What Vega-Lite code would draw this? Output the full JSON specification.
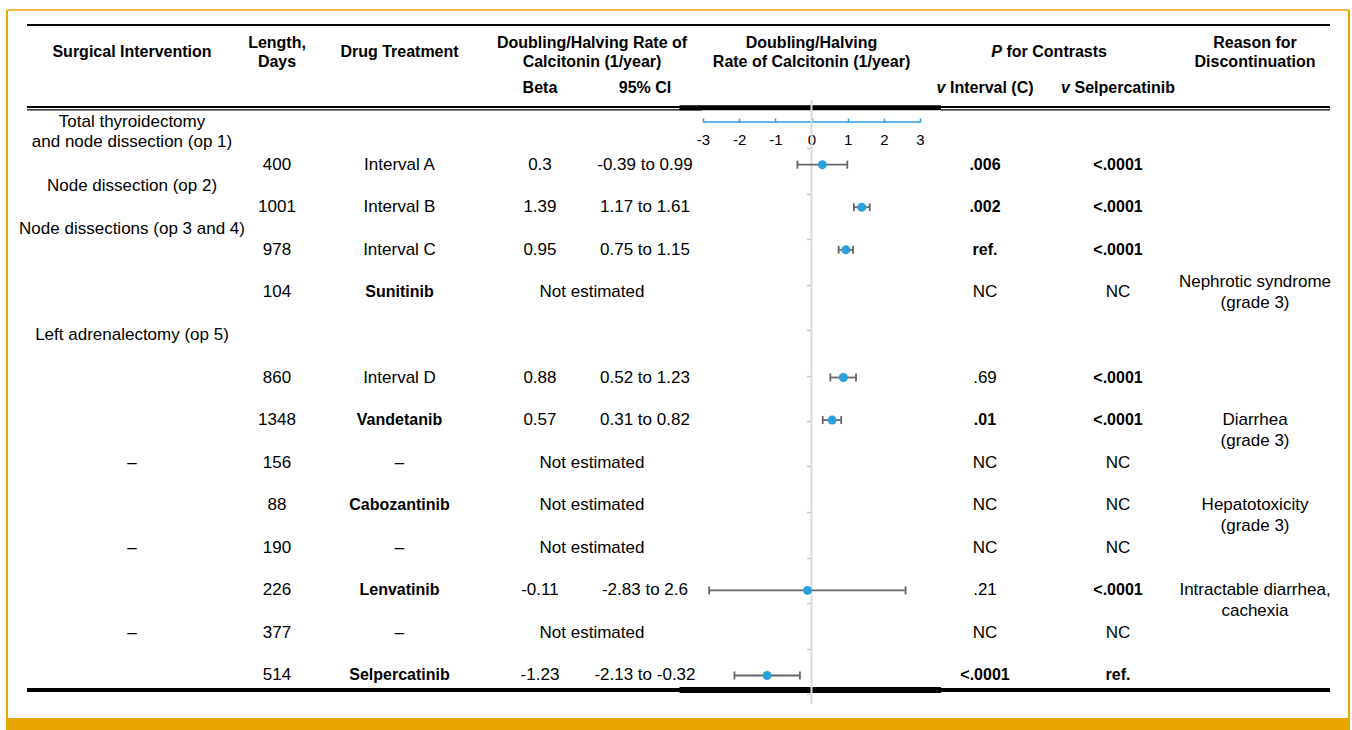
{
  "$schema": "https://vega.github.io/schema/vega-lite/v6.json",
  "padding": {"left": 6, "top": 9, "right": 0, "bottom": 0},
  "spacing": 0,
  "bounds": "flush",
  "background": "#ffffff",
  "config": {
    "view": {"stroke": null},
    "text": {"font": "Liberation Sans", "fontSize": 17, "baseline": "middle", "align": "center", "fill": "#000", "lineBreak": "\n", "lineHeight": 19},
    "rule": {"color": "#000"},
    "axis": {"labelFont": "Liberation Sans", "labelFontSize": 15, "labelColor": "#000"}
  },
  "datasets": {
    "rows": [
      {"row": 1, "len": "400", "drug": "Interval A", "kind": "interval", "beta": "0.3", "ci": "-0.39 to 0.99", "pC": ".006", "sigC": true, "pS": "<.0001", "sigS": true},
      {"row": 2, "len": "1001", "drug": "Interval B", "kind": "interval", "beta": "1.39", "ci": "1.17 to 1.61", "pC": ".002", "sigC": true, "pS": "<.0001", "sigS": true},
      {"row": 3, "len": "978", "drug": "Interval C", "kind": "interval", "beta": "0.95", "ci": "0.75 to 1.15", "pC": "ref.", "sigC": true, "pS": "<.0001", "sigS": true},
      {"row": 4, "len": "104", "drug": "Sunitinib", "kind": "drug", "beta": "Not estimated", "ci": null, "pC": "NC", "sigC": false, "pS": "NC", "sigS": false},
      {"row": 6, "len": "860", "drug": "Interval D", "kind": "interval", "beta": "0.88", "ci": "0.52 to 1.23", "pC": ".69", "sigC": false, "pS": "<.0001", "sigS": true},
      {"row": 7, "len": "1348", "drug": "Vandetanib", "kind": "drug", "beta": "0.57", "ci": "0.31 to 0.82", "pC": ".01", "sigC": true, "pS": "<.0001", "sigS": true},
      {"row": 8, "len": "156", "drug": "–", "kind": "none", "beta": "Not estimated", "ci": null, "pC": "NC", "sigC": false, "pS": "NC", "sigS": false},
      {"row": 9, "len": "88", "drug": "Cabozantinib", "kind": "drug", "beta": "Not estimated", "ci": null, "pC": "NC", "sigC": false, "pS": "NC", "sigS": false},
      {"row": 10, "len": "190", "drug": "–", "kind": "none", "beta": "Not estimated", "ci": null, "pC": "NC", "sigC": false, "pS": "NC", "sigS": false},
      {"row": 11, "len": "226", "drug": "Lenvatinib", "kind": "drug", "beta": "-0.11", "ci": "-2.83 to 2.6", "pC": ".21", "sigC": false, "pS": "<.0001", "sigS": true},
      {"row": 12, "len": "377", "drug": "–", "kind": "none", "beta": "Not estimated", "ci": null, "pC": "NC", "sigC": false, "pS": "NC", "sigS": false},
      {"row": 13, "len": "514", "drug": "Selpercatinib", "kind": "drug", "beta": "-1.23", "ci": "-2.13 to -0.32", "pC": "<.0001", "sigC": true, "pS": "ref.", "sigS": true}
    ],
    "forest": [
      {"row": 1, "b": 0.3, "lo": -0.39, "hi": 0.99},
      {"row": 2, "b": 1.39, "lo": 1.17, "hi": 1.61},
      {"row": 3, "b": 0.95, "lo": 0.75, "hi": 1.15},
      {"row": 6, "b": 0.88, "lo": 0.52, "hi": 1.23},
      {"row": 7, "b": 0.57, "lo": 0.31, "hi": 0.82},
      {"row": 11, "b": -0.11, "lo": -2.83, "hi": 2.6},
      {"row": 13, "b": -1.23, "lo": -2.13, "hi": -0.32}
    ],
    "surgical": [
      {"row": 0, "l1": "Total thyroidectomy", "l2": "and node dissection (op 1)"},
      {"row": 1.5, "l1": "Node dissection (op 2)"},
      {"row": 2.5, "l1": "Node dissections (op 3 and 4)"},
      {"row": 5, "l1": "Left adrenalectomy (op 5)"},
      {"row": 8, "l1": "–"},
      {"row": 10, "l1": "–"},
      {"row": 12, "l1": "–"}
    ],
    "reasons": [
      {"row": 3.75, "l1": "Nephrotic syndrome", "l2": "(grade 3)"},
      {"row": 7, "l1": "Diarrhea", "l2": "(grade 3)"},
      {"row": 9, "l1": "Hepatotoxicity", "l2": "(grade 3)"},
      {"row": 11, "l1": "Intractable diarrhea,", "l2": "cachexia"}
    ]
  },
  "hconcat": [
    {
      "width": 2, "height": 721,
      "view": {"fill": "#E8A500", "stroke": null},
      "data": {"values": [{}]},
      "mark": {"type": "rect", "color": "#E8A500"},
      "encoding": {"y": {"datum": 13.998, "type": "quantitative", "scale": {"domain": [-2.633, 14.304], "reverse": true, "nice": false, "zero": false}, "axis": null}, "y2": {"datum": 14.304}}
    },
    {
      "width": 19, "height": 721,
      "data": {"values": [{}]},
      "layer": [
        {"mark": {"type": "rule", "color": "#E8A500", "strokeWidth": 1.5}, "encoding": {"y": {"datum": -2.633, "type": "quantitative", "scale": {"domain": [-2.633, 14.304], "reverse": true, "nice": false, "zero": false}, "axis": null}}},
        {"mark": {"type": "rect", "color": "#E8A500"}, "encoding": {"y": {"datum": 13.998, "type": "quantitative", "axis": null}, "y2": {"datum": 14.304}}}
      ]
    },
    {
      "width": 210, "height": 721,
      "data": {"values": [{}]},
      "layer": [
        {"mark": {"type": "rule", "color": "#E8A500", "strokeWidth": 1.5}, "encoding": {"y": {"datum": -2.633, "type": "quantitative", "scale": {"domain": [-2.633, 14.304], "reverse": true, "nice": false, "zero": false}, "axis": null}}},
        {"mark": {"type": "rect", "color": "#E8A500"}, "encoding": {"y": {"datum": 13.998, "type": "quantitative", "axis": null}, "y2": {"datum": 14.304}}},
        {"mark": {"type": "rule", "strokeWidth": 2}, "encoding": {"y": {"datum": -2.28, "type": "quantitative", "axis": null}}},
        {"mark": {"type": "rule", "strokeWidth": 2}, "encoding": {"y": {"datum": -0.356, "type": "quantitative", "axis": null}}},
        {"mark": {"type": "rule", "strokeWidth": 1.2}, "encoding": {"y": {"datum": -0.285, "type": "quantitative", "axis": null}}},
        {"mark": {"type": "rule", "strokeWidth": 4}, "encoding": {"y": {"datum": 13.339, "type": "quantitative", "axis": null}}},
        {"data": {"values": [{"h": "Surgical Intervention"}]}, "mark": {"type": "text", "fontWeight": "bold", "fontSize": 16}, "encoding": {"text": {"field": "h"}, "y": {"datum": -1.645, "type": "quantitative", "axis": null}}},
        {"data": {"name": "surgical"}, "mark": {"type": "text"}, "encoding": {"text": {"field": "l1"}, "y": {"field": "row", "type": "quantitative", "axis": null}}},
        {"data": {"name": "surgical"}, "transform": [{"filter": "datum.l2 != null"}], "mark": {"type": "text", "dy": 20}, "encoding": {"text": {"field": "l2"}, "y": {"field": "row", "type": "quantitative", "axis": null}}}
      ]
    },
    {
      "width": 80, "height": 721,
      "data": {"values": [{}]},
      "layer": [
        {"mark": {"type": "rule", "color": "#E8A500", "strokeWidth": 1.5}, "encoding": {"y": {"datum": -2.633, "type": "quantitative", "scale": {"domain": [-2.633, 14.304], "reverse": true, "nice": false, "zero": false}, "axis": null}}},
        {"mark": {"type": "rect", "color": "#E8A500"}, "encoding": {"y": {"datum": 13.998, "type": "quantitative", "axis": null}, "y2": {"datum": 14.304}}},
        {"mark": {"type": "rule", "strokeWidth": 2}, "encoding": {"y": {"datum": -2.28, "type": "quantitative", "axis": null}}},
        {"mark": {"type": "rule", "strokeWidth": 2}, "encoding": {"y": {"datum": -0.356, "type": "quantitative", "axis": null}}},
        {"mark": {"type": "rule", "strokeWidth": 1.2}, "encoding": {"y": {"datum": -0.285, "type": "quantitative", "axis": null}}},
        {"mark": {"type": "rule", "strokeWidth": 4}, "encoding": {"y": {"datum": 13.339, "type": "quantitative", "axis": null}}},
        {"data": {"values": [{"h": "Length,\nDays"}]}, "mark": {"type": "text", "fontWeight": "bold", "fontSize": 16}, "encoding": {"text": {"field": "h"}, "y": {"datum": -1.857, "type": "quantitative", "axis": null}}},
        {"data": {"name": "rows"}, "mark": {"type": "text"}, "encoding": {"text": {"field": "len"}, "y": {"field": "row", "type": "quantitative", "axis": null}}}
      ]
    },
    {
      "width": 165, "height": 721,
      "data": {"values": [{}]},
      "layer": [
        {"mark": {"type": "rule", "color": "#E8A500", "strokeWidth": 1.5}, "encoding": {"y": {"datum": -2.633, "type": "quantitative", "scale": {"domain": [-2.633, 14.304], "reverse": true, "nice": false, "zero": false}, "axis": null}}},
        {"mark": {"type": "rect", "color": "#E8A500"}, "encoding": {"y": {"datum": 13.998, "type": "quantitative", "axis": null}, "y2": {"datum": 14.304}}},
        {"mark": {"type": "rule", "strokeWidth": 2}, "encoding": {"y": {"datum": -2.28, "type": "quantitative", "axis": null}}},
        {"mark": {"type": "rule", "strokeWidth": 2}, "encoding": {"y": {"datum": -0.356, "type": "quantitative", "axis": null}}},
        {"mark": {"type": "rule", "strokeWidth": 1.2}, "encoding": {"y": {"datum": -0.285, "type": "quantitative", "axis": null}}},
        {"mark": {"type": "rule", "strokeWidth": 4}, "encoding": {"y": {"datum": 13.339, "type": "quantitative", "axis": null}}},
        {"data": {"values": [{"h": "Drug Treatment"}]}, "mark": {"type": "text", "fontWeight": "bold", "fontSize": 16}, "encoding": {"text": {"field": "h"}, "y": {"datum": -1.645, "type": "quantitative", "axis": null}}},
        {"data": {"name": "rows"}, "transform": [{"filter": "datum.kind == 'drug'"}], "mark": {"type": "text", "fontWeight": "bold", "fontSize": 16}, "encoding": {"text": {"field": "drug"}, "y": {"field": "row", "type": "quantitative", "axis": null}}},
        {"data": {"name": "rows"}, "transform": [{"filter": "datum.kind != 'drug'"}], "mark": {"type": "text"}, "encoding": {"text": {"field": "drug"}, "y": {"field": "row", "type": "quantitative", "axis": null}}}
      ]
    },
    {
      "width": 220, "height": 721,
      "data": {"values": [{}]},
      "layer": [
        {"mark": {"type": "rule", "color": "#E8A500", "strokeWidth": 1.5}, "encoding": {"y": {"datum": -2.633, "type": "quantitative", "scale": {"domain": [-2.633, 14.304], "reverse": true, "nice": false, "zero": false}, "axis": null}}},
        {"mark": {"type": "rect", "color": "#E8A500"}, "encoding": {"y": {"datum": 13.998, "type": "quantitative", "axis": null}, "y2": {"datum": 14.304}}},
        {"mark": {"type": "rule", "strokeWidth": 2}, "encoding": {"y": {"datum": -2.28, "type": "quantitative", "axis": null}}},
        {"mark": {"type": "rule", "strokeWidth": 2}, "encoding": {"y": {"datum": -0.356, "type": "quantitative", "axis": null}}},
        {"mark": {"type": "rule", "strokeWidth": 1.2}, "encoding": {"y": {"datum": -0.285, "type": "quantitative", "axis": null}}},
        {"mark": {"type": "rule", "strokeWidth": 4}, "encoding": {"y": {"datum": 13.339, "type": "quantitative", "axis": null}}},
        {"data": {"values": [{"h": "Doubling/Halving Rate of\nCalcitonin (1/year)"}]}, "mark": {"type": "text", "fontWeight": "bold", "fontSize": 16}, "encoding": {"text": {"field": "h"}, "y": {"datum": -1.857, "type": "quantitative", "axis": null}}},
        {"data": {"values": [{"h": "Beta"}]}, "mark": {"type": "text", "fontWeight": "bold", "fontSize": 16}, "encoding": {"text": {"field": "h"}, "x": {"datum": "Beta", "type": "nominal", "scale": {"type": "point", "domain": ["Beta", "CI"], "padding": 0.5476, "align": 0.504}, "axis": null}, "y": {"datum": -0.798, "type": "quantitative", "axis": null}}},
        {"data": {"values": [{"h": "95% CI"}]}, "mark": {"type": "text", "fontWeight": "bold", "fontSize": 16}, "encoding": {"text": {"field": "h"}, "x": {"datum": "CI", "type": "nominal", "axis": null}, "y": {"datum": -0.798, "type": "quantitative", "axis": null}}},
        {"data": {"name": "rows"}, "transform": [{"filter": "datum.ci != null"}], "mark": {"type": "text"}, "encoding": {"text": {"field": "beta"}, "x": {"datum": "Beta", "type": "nominal", "axis": null}, "y": {"field": "row", "type": "quantitative", "axis": null}}},
        {"data": {"name": "rows"}, "transform": [{"filter": "datum.ci != null"}], "mark": {"type": "text"}, "encoding": {"text": {"field": "ci"}, "x": {"datum": "CI", "type": "nominal", "axis": null}, "y": {"field": "row", "type": "quantitative", "axis": null}}},
        {"data": {"name": "rows"}, "transform": [{"filter": "datum.ci == null"}], "mark": {"type": "text"}, "encoding": {"text": {"field": "beta"}, "y": {"field": "row", "type": "quantitative", "axis": null}}}
      ]
    },
    {
      "width": 239, "height": 721,
      "data": {"values": [{}]},
      "layer": [
        {"mark": {"type": "rule", "color": "#E8A500", "strokeWidth": 1.5}, "encoding": {
          "y": {"datum": -2.633, "type": "quantitative", "scale": {"domain": [-2.633, 14.304], "reverse": true, "nice": false, "zero": false}, "axis": {"orient": "left", "offset": -109.5, "values": [0.61, 1.68, 2.75, 3.82, 4.89, 5.96, 7.03, 8.09, 9.16, 10.23, 11.3, 12.37, 13.43], "labels": false, "domain": false, "grid": false, "ticks": true, "tickColor": "#C8C8C8", "tickSize": 5, "tickWidth": 1.5, "title": null}}}},
        {"mark": {"type": "rect", "color": "#E8A500"}, "encoding": {
          "y": {"datum": 13.998, "type": "quantitative", "axis": {"orient": "left", "offset": -109.5, "values": [0.61, 1.68, 2.75, 3.82, 4.89, 5.96, 7.03, 8.09, 9.16, 10.23, 11.3, 12.37, 13.43], "labels": false, "domain": false, "grid": false, "ticks": true, "tickColor": "#C8C8C8", "tickSize": 5, "tickWidth": 1.5, "title": null}}, "y2": {"datum": 14.304}}},
        {"mark": {"type": "rule", "strokeWidth": 2}, "encoding": {
          "y": {"datum": -2.28, "type": "quantitative", "axis": {"orient": "left", "offset": -109.5, "values": [0.61, 1.68, 2.75, 3.82, 4.89, 5.96, 7.03, 8.09, 9.16, 10.23, 11.3, 12.37, 13.43], "labels": false, "domain": false, "grid": false, "ticks": true, "tickColor": "#C8C8C8", "tickSize": 5, "tickWidth": 1.5, "title": null}}}},
        {"mark": {"type": "rule", "strokeWidth": 5}, "encoding": {
          "x": {"datum": -3.65, "type": "quantitative", "scale": {"domain": [-3.028, 3.58], "nice": false, "zero": false}, "axis": {"orient": "top", "offset": -112, "values": [-3, -2, -1, 0, 1, 2, 3], "domain": false, "grid": false, "ticks": true, "tickColor": "#2B9FD9", "tickSize": 4, "tickWidth": 1.5, "labelPadding": -21, "labelBaseline": "middle", "labelFont": "Liberation Sans", "labelFontSize": 15, "labelColor": "#000", "labelExpr": "'' + datum.value", "labelFlush": false, "labelOverlap": false, "labelBound": false, "title": null}},
          "x2": {"datum": 3.58},
          "y": {"datum": -0.339, "type": "quantitative", "axis": {"orient": "left", "offset": -109.5, "values": [0.61, 1.68, 2.75, 3.82, 4.89, 5.96, 7.03, 8.09, 9.16, 10.23, 11.3, 12.37, 13.43], "labels": false, "domain": false, "grid": false, "ticks": true, "tickColor": "#C8C8C8", "tickSize": 5, "tickWidth": 1.5, "title": null}}}},
        {"mark": {"type": "rule", "strokeWidth": 6}, "encoding": {
          "x": {"datum": -3.65, "type": "quantitative", "axis": {"orient": "top", "offset": -112, "values": [-3, -2, -1, 0, 1, 2, 3], "domain": false, "grid": false, "ticks": true, "tickColor": "#2B9FD9", "tickSize": 4, "tickWidth": 1.5, "labelPadding": -21, "labelBaseline": "middle", "labelFont": "Liberation Sans", "labelFontSize": 15, "labelColor": "#000", "labelExpr": "'' + datum.value", "labelFlush": false, "labelOverlap": false, "labelBound": false, "title": null}},
          "x2": {"datum": 3.58},
          "y": {"datum": 13.339, "type": "quantitative", "axis": {"orient": "left", "offset": -109.5, "values": [0.61, 1.68, 2.75, 3.82, 4.89, 5.96, 7.03, 8.09, 9.16, 10.23, 11.3, 12.37, 13.43], "labels": false, "domain": false, "grid": false, "ticks": true, "tickColor": "#C8C8C8", "tickSize": 5, "tickWidth": 1.5, "title": null}}}},
        {"mark": {"type": "rule", "color": "#2B9FD9", "strokeWidth": 1.5}, "encoding": {
          "x": {"datum": -3, "type": "quantitative", "axis": {"orient": "top", "offset": -112, "values": [-3, -2, -1, 0, 1, 2, 3], "domain": false, "grid": false, "ticks": true, "tickColor": "#2B9FD9", "tickSize": 4, "tickWidth": 1.5, "labelPadding": -21, "labelBaseline": "middle", "labelFont": "Liberation Sans", "labelFontSize": 15, "labelColor": "#000", "labelExpr": "'' + datum.value", "labelFlush": false, "labelOverlap": false, "labelBound": false, "title": null}},
          "x2": {"datum": 3},
          "y": {"datum": 0, "type": "quantitative", "axis": {"orient": "left", "offset": -109.5, "values": [0.61, 1.68, 2.75, 3.82, 4.89, 5.96, 7.03, 8.09, 9.16, 10.23, 11.3, 12.37, 13.43], "labels": false, "domain": false, "grid": false, "ticks": true, "tickColor": "#C8C8C8", "tickSize": 5, "tickWidth": 1.5, "title": null}}}},
        {"mark": {"type": "rule", "color": "#DADADA", "strokeWidth": 2}, "encoding": {
          "x": {"datum": 0, "type": "quantitative", "axis": {"orient": "top", "offset": -112, "values": [-3, -2, -1, 0, 1, 2, 3], "domain": false, "grid": false, "ticks": true, "tickColor": "#2B9FD9", "tickSize": 4, "tickWidth": 1.5, "labelPadding": -21, "labelBaseline": "middle", "labelFont": "Liberation Sans", "labelFontSize": 15, "labelColor": "#000", "labelExpr": "'' + datum.value", "labelFlush": false, "labelOverlap": false, "labelBound": false, "title": null}},
          "y": {"datum": -0.52, "type": "quantitative", "axis": {"orient": "left", "offset": -109.5, "values": [0.61, 1.68, 2.75, 3.82, 4.89, 5.96, 7.03, 8.09, 9.16, 10.23, 11.3, 12.37, 13.43], "labels": false, "domain": false, "grid": false, "ticks": true, "tickColor": "#C8C8C8", "tickSize": 5, "tickWidth": 1.5, "title": null}},
          "y2": {"datum": 13.67}}},
        {"data": {"name": "forest"}, "mark": {"type": "rule", "color": "#666666", "strokeWidth": 1.8}, "encoding": {
          "x": {"field": "lo", "type": "quantitative", "axis": {"orient": "top", "offset": -112, "values": [-3, -2, -1, 0, 1, 2, 3], "domain": false, "grid": false, "ticks": true, "tickColor": "#2B9FD9", "tickSize": 4, "tickWidth": 1.5, "labelPadding": -21, "labelBaseline": "middle", "labelFont": "Liberation Sans", "labelFontSize": 15, "labelColor": "#000", "labelExpr": "'' + datum.value", "labelFlush": false, "labelOverlap": false, "labelBound": false, "title": null}},
          "x2": {"field": "hi"},
          "y": {"field": "row", "type": "quantitative", "axis": {"orient": "left", "offset": -109.5, "values": [0.61, 1.68, 2.75, 3.82, 4.89, 5.96, 7.03, 8.09, 9.16, 10.23, 11.3, 12.37, 13.43], "labels": false, "domain": false, "grid": false, "ticks": true, "tickColor": "#C8C8C8", "tickSize": 5, "tickWidth": 1.5, "title": null}}}},
        {"data": {"name": "forest"}, "mark": {"type": "tick", "orient": "vertical", "color": "#666666", "size": 8, "thickness": 1.8, "opacity": 1}, "encoding": {
          "x": {"field": "lo", "type": "quantitative", "axis": {"orient": "top", "offset": -112, "values": [-3, -2, -1, 0, 1, 2, 3], "domain": false, "grid": false, "ticks": true, "tickColor": "#2B9FD9", "tickSize": 4, "tickWidth": 1.5, "labelPadding": -21, "labelBaseline": "middle", "labelFont": "Liberation Sans", "labelFontSize": 15, "labelColor": "#000", "labelExpr": "'' + datum.value", "labelFlush": false, "labelOverlap": false, "labelBound": false, "title": null}},
          "y": {"field": "row", "type": "quantitative", "axis": {"orient": "left", "offset": -109.5, "values": [0.61, 1.68, 2.75, 3.82, 4.89, 5.96, 7.03, 8.09, 9.16, 10.23, 11.3, 12.37, 13.43], "labels": false, "domain": false, "grid": false, "ticks": true, "tickColor": "#C8C8C8", "tickSize": 5, "tickWidth": 1.5, "title": null}}}},
        {"data": {"name": "forest"}, "mark": {"type": "tick", "orient": "vertical", "color": "#666666", "size": 8, "thickness": 1.8, "opacity": 1}, "encoding": {
          "x": {"field": "hi", "type": "quantitative", "axis": {"orient": "top", "offset": -112, "values": [-3, -2, -1, 0, 1, 2, 3], "domain": false, "grid": false, "ticks": true, "tickColor": "#2B9FD9", "tickSize": 4, "tickWidth": 1.5, "labelPadding": -21, "labelBaseline": "middle", "labelFont": "Liberation Sans", "labelFontSize": 15, "labelColor": "#000", "labelExpr": "'' + datum.value", "labelFlush": false, "labelOverlap": false, "labelBound": false, "title": null}},
          "y": {"field": "row", "type": "quantitative", "axis": {"orient": "left", "offset": -109.5, "values": [0.61, 1.68, 2.75, 3.82, 4.89, 5.96, 7.03, 8.09, 9.16, 10.23, 11.3, 12.37, 13.43], "labels": false, "domain": false, "grid": false, "ticks": true, "tickColor": "#C8C8C8", "tickSize": 5, "tickWidth": 1.5, "title": null}}}},
        {"data": {"name": "forest"}, "mark": {"type": "point", "filled": true, "size": 80, "color": "#2B9FD9", "opacity": 1}, "encoding": {
          "x": {"field": "b", "type": "quantitative", "axis": {"orient": "top", "offset": -112, "values": [-3, -2, -1, 0, 1, 2, 3], "domain": false, "grid": false, "ticks": true, "tickColor": "#2B9FD9", "tickSize": 4, "tickWidth": 1.5, "labelPadding": -21, "labelBaseline": "middle", "labelFont": "Liberation Sans", "labelFontSize": 15, "labelColor": "#000", "labelExpr": "'' + datum.value", "labelFlush": false, "labelOverlap": false, "labelBound": false, "title": null}},
          "y": {"field": "row", "type": "quantitative", "axis": {"orient": "left", "offset": -109.5, "values": [0.61, 1.68, 2.75, 3.82, 4.89, 5.96, 7.03, 8.09, 9.16, 10.23, 11.3, 12.37, 13.43], "labels": false, "domain": false, "grid": false, "ticks": true, "tickColor": "#C8C8C8", "tickSize": 5, "tickWidth": 1.5, "title": null}}}},
        {"data": {"values": [{"h": "Doubling/Halving\nRate of Calcitonin (1/year)"}]}, "mark": {"type": "text", "fontWeight": "bold", "fontSize": 16}, "encoding": {"text": {"field": "h"},
          "x": {"datum": 0, "type": "quantitative", "axis": {"orient": "top", "offset": -112, "values": [-3, -2, -1, 0, 1, 2, 3], "domain": false, "grid": false, "ticks": true, "tickColor": "#2B9FD9", "tickSize": 4, "tickWidth": 1.5, "labelPadding": -21, "labelBaseline": "middle", "labelFont": "Liberation Sans", "labelFontSize": 15, "labelColor": "#000", "labelExpr": "'' + datum.value", "labelFlush": false, "labelOverlap": false, "labelBound": false, "title": null}},
          "y": {"datum": -1.857, "type": "quantitative", "axis": {"orient": "left", "offset": -109.5, "values": [0.61, 1.68, 2.75, 3.82, 4.89, 5.96, 7.03, 8.09, 9.16, 10.23, 11.3, 12.37, 13.43], "labels": false, "domain": false, "grid": false, "ticks": true, "tickColor": "#C8C8C8", "tickSize": 5, "tickWidth": 1.5, "title": null}}}}
      ]
    },
    {
      "width": 239, "height": 721,
      "data": {"values": [{}]},
      "layer": [
        {"mark": {"type": "rule", "color": "#E8A500", "strokeWidth": 1.5}, "encoding": {"y": {"datum": -2.633, "type": "quantitative", "scale": {"domain": [-2.633, 14.304], "reverse": true, "nice": false, "zero": false}, "axis": null}}},
        {"mark": {"type": "rect", "color": "#E8A500"}, "encoding": {"y": {"datum": 13.998, "type": "quantitative", "axis": null}, "y2": {"datum": 14.304}}},
        {"mark": {"type": "rule", "strokeWidth": 2}, "encoding": {"y": {"datum": -2.28, "type": "quantitative", "axis": null}}},
        {"mark": {"type": "rule", "strokeWidth": 2}, "encoding": {"y": {"datum": -0.356, "type": "quantitative", "axis": null}}},
        {"mark": {"type": "rule", "strokeWidth": 1.2}, "encoding": {"y": {"datum": -0.285, "type": "quantitative", "axis": null}}},
        {"mark": {"type": "rule", "strokeWidth": 4}, "encoding": {"y": {"datum": 13.339, "type": "quantitative", "axis": null}}},
        {"data": {"values": [{"h": "P"}]}, "mark": {"type": "text", "fontWeight": "bold", "fontSize": 16, "fontStyle": "italic", "align": "right", "dx": -58.5}, "encoding": {"text": {"field": "h"}, "y": {"datum": -1.645, "type": "quantitative", "axis": null}}},
        {"data": {"values": [{"h": "for Contrasts"}]}, "mark": {"type": "text", "fontWeight": "bold", "fontSize": 16, "align": "left", "dx": -54}, "encoding": {"text": {"field": "h"}, "y": {"datum": -1.645, "type": "quantitative", "axis": null}}},
        {"data": {"values": [{"h": "v"}]}, "mark": {"type": "text", "fontWeight": "bold", "fontSize": 16, "fontStyle": "italic", "align": "right", "dx": -39.5}, "encoding": {"text": {"field": "h"}, "x": {"datum": "C", "type": "nominal", "scale": {"type": "point", "domain": ["C", "S"], "padding": 0.3985, "align": 0.415}, "axis": null}, "y": {"datum": -0.798, "type": "quantitative", "axis": null}}},
        {"data": {"values": [{"h": "Interval (C)"}]}, "mark": {"type": "text", "fontWeight": "bold", "fontSize": 16, "align": "left", "dx": -35}, "encoding": {"text": {"field": "h"}, "x": {"datum": "C", "type": "nominal", "axis": null}, "y": {"datum": -0.798, "type": "quantitative", "axis": null}}},
        {"data": {"values": [{"h": "v"}]}, "mark": {"type": "text", "fontWeight": "bold", "fontSize": 16, "fontStyle": "italic", "align": "right", "dx": -48}, "encoding": {"text": {"field": "h"}, "x": {"datum": "S", "type": "nominal", "axis": null}, "y": {"datum": -0.798, "type": "quantitative", "axis": null}}},
        {"data": {"values": [{"h": "Selpercatinib"}]}, "mark": {"type": "text", "fontWeight": "bold", "fontSize": 16, "align": "left", "dx": -43.5}, "encoding": {"text": {"field": "h"}, "x": {"datum": "S", "type": "nominal", "axis": null}, "y": {"datum": -0.798, "type": "quantitative", "axis": null}}},
        {"data": {"name": "rows"}, "transform": [{"filter": "datum.sigC"}], "mark": {"type": "text", "fontWeight": "bold", "fontSize": 16}, "encoding": {"text": {"field": "pC"}, "x": {"datum": "C", "type": "nominal", "axis": null}, "y": {"field": "row", "type": "quantitative", "axis": null}}},
        {"data": {"name": "rows"}, "transform": [{"filter": "!datum.sigC"}], "mark": {"type": "text"}, "encoding": {"text": {"field": "pC"}, "x": {"datum": "C", "type": "nominal", "axis": null}, "y": {"field": "row", "type": "quantitative", "axis": null}}},
        {"data": {"name": "rows"}, "transform": [{"filter": "datum.sigS"}], "mark": {"type": "text", "fontWeight": "bold", "fontSize": 16}, "encoding": {"text": {"field": "pS"}, "x": {"datum": "S", "type": "nominal", "axis": null}, "y": {"field": "row", "type": "quantitative", "axis": null}}},
        {"data": {"name": "rows"}, "transform": [{"filter": "!datum.sigS"}], "mark": {"type": "text"}, "encoding": {"text": {"field": "pS"}, "x": {"datum": "S", "type": "nominal", "axis": null}, "y": {"field": "row", "type": "quantitative", "axis": null}}}
      ]
    },
    {
      "width": 150, "height": 721,
      "data": {"values": [{}]},
      "layer": [
        {"mark": {"type": "rule", "color": "#E8A500", "strokeWidth": 1.5}, "encoding": {"y": {"datum": -2.633, "type": "quantitative", "scale": {"domain": [-2.633, 14.304], "reverse": true, "nice": false, "zero": false}, "axis": null}}},
        {"mark": {"type": "rect", "color": "#E8A500"}, "encoding": {"y": {"datum": 13.998, "type": "quantitative", "axis": null}, "y2": {"datum": 14.304}}},
        {"mark": {"type": "rule", "strokeWidth": 2}, "encoding": {"y": {"datum": -2.28, "type": "quantitative", "axis": null}}},
        {"mark": {"type": "rule", "strokeWidth": 2}, "encoding": {"y": {"datum": -0.356, "type": "quantitative", "axis": null}}},
        {"mark": {"type": "rule", "strokeWidth": 1.2}, "encoding": {"y": {"datum": -0.285, "type": "quantitative", "axis": null}}},
        {"mark": {"type": "rule", "strokeWidth": 4}, "encoding": {"y": {"datum": 13.339, "type": "quantitative", "axis": null}}},
        {"data": {"values": [{"h": "Reason for\nDiscontinuation"}]}, "mark": {"type": "text", "fontWeight": "bold", "fontSize": 16}, "encoding": {"text": {"field": "h"}, "y": {"datum": -1.857, "type": "quantitative", "axis": null}}},
        {"data": {"name": "reasons"}, "mark": {"type": "text"}, "encoding": {"text": {"field": "l1"}, "y": {"field": "row", "type": "quantitative", "axis": null}}},
        {"data": {"name": "reasons"}, "mark": {"type": "text", "dy": 21}, "encoding": {"text": {"field": "l2"}, "y": {"field": "row", "type": "quantitative", "axis": null}}}
      ]
    },
    {
      "width": 18, "height": 721,
      "data": {"values": [{}]},
      "layer": [
        {"mark": {"type": "rule", "color": "#E8A500", "strokeWidth": 1.5}, "encoding": {"y": {"datum": -2.633, "type": "quantitative", "scale": {"domain": [-2.633, 14.304], "reverse": true, "nice": false, "zero": false}, "axis": null}}},
        {"mark": {"type": "rect", "color": "#E8A500"}, "encoding": {"y": {"datum": 13.998, "type": "quantitative", "axis": null}, "y2": {"datum": 14.304}}}
      ]
    },
    {
      "width": 2, "height": 721,
      "view": {"fill": "#E8A500", "stroke": null},
      "data": {"values": [{}]},
      "mark": {"type": "rect", "color": "#E8A500"},
      "encoding": {"y": {"datum": 13.998, "type": "quantitative", "scale": {"domain": [-2.633, 14.304], "reverse": true, "nice": false, "zero": false}, "axis": null}, "y2": {"datum": 14.304}}
    }
  ]
}
